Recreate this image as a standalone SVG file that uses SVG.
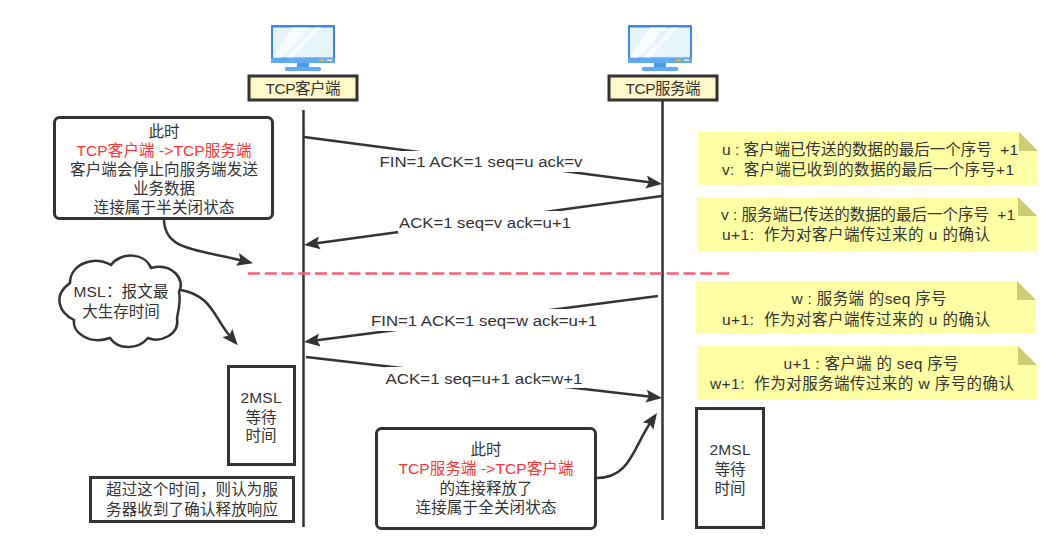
<svg xmlns="http://www.w3.org/2000/svg" width="1060" height="560" viewBox="0 0 1060 560">
  <style>
    text { font-family: "Liberation Sans", "Noto Sans CJK SC", sans-serif; font-size: 15.5px; fill: #333; text-anchor: middle; white-space: pre; }
    text.l { text-anchor: start; }
    text.red { fill: #ff3333; }
    .box { fill: #fff; stroke: #333; stroke-width: 3; }
    .hdr { fill: #fff8c9; stroke: #333; stroke-width: 3; }
    .life { fill: none; stroke: #333; stroke-width: 2.5; }
    .msg { fill: none; stroke: #333; stroke-width: 2.5; marker-end: url(#head); }
    .bg { fill: #fff; }
    .sticky { fill: #ffffa6; }
    .fold { fill: #cccc74; }
  </style>
  <defs>
    <!-- the tip sits 11 units past the end of each connector path -->
    <marker id="head" markerUnits="userSpaceOnUse" markerWidth="18" markerHeight="15" refX="5" refY="6.500" orient="auto">
      <path d="M0 0 L16 6.500 L0 13 L3 6.500 Z" fill="#333"/>
    </marker>
    <g id="monitor">
      <rect x="0" y="0" width="64" height="38" rx="1" fill="#3f83f0"/>
      <rect x="2" y="2.500" width="60" height="30" fill="#e6f4fc"/>
      <path d="M22 2.500 L38 2.500 L10 32.500 L2 32.500 Z M44 2.500 L50 2.500 L22 32.500 L16 32.500 Z" fill="#f7fbfe"/>
      <rect x="0" y="33" width="64" height="5" fill="#62a9f2"/>
      <rect x="48" y="34.500" width="5" height="1.500" fill="#f4bb3a"/>
      <rect x="56" y="34.500" width="5" height="1.500" fill="#e8f3fd"/>
      <rect x="26" y="38" width="12" height="6" fill="#4a9af0"/>
      <rect x="14" y="42" width="36" height="4" rx="1.500" fill="#62a9f2"/>
    </g>
  </defs>

  <!-- lifelines and connectors -->
  <g id="connectors">
    <path class="life" d="M303.500 110 V527"/>
    <path class="life" d="M662.500 100 V520"/>
    <path class="msg" d="M304 137 L651.100 182.600"/>
    <path class="msg" d="M662 196 L314.900 243.500"/>
    <path class="msg" d="M658 296 L314.900 340.600"/>
    <path class="msg" d="M306 357 L651.100 396.700"/>
    <path d="M248 273.500 H730" fill="none" stroke="#ff5c7c" stroke-width="2.500" stroke-dasharray="12 4.750"/>
    <path class="msg" d="M164 219 C164 250 195 249 242.300 260.600"/>
    <path class="msg" d="M181 290 C212 296 213 316 230.600 336.900"/>
    <path class="msg" d="M597 478 C630 478 633 448 650.800 422"/>
  </g>

  <!-- messages -->
  <g id="msg-fin-client">
    <rect class="bg" x="379" y="151" width="204" height="21"/>
    <text x="481" y="166.500" textLength="203" lengthAdjust="spacingAndGlyphs">FIN=1 ACK=1 seq=u ack=v</text>
  </g>
  <g id="msg-ack-server">
    <rect class="bg" x="398" y="211" width="175" height="22"/>
    <text x="485" y="227.500" textLength="172" lengthAdjust="spacingAndGlyphs">ACK=1 seq=v ack=u+1</text>
  </g>
  <g id="msg-fin-server">
    <rect class="bg" x="370" y="309" width="229" height="22"/>
    <text x="484" y="325.500" textLength="226" lengthAdjust="spacingAndGlyphs">FIN=1 ACK=1 seq=w ack=u+1</text>
  </g>
  <g id="msg-ack-client">
    <rect class="bg" x="385" y="367" width="199" height="21"/>
    <text x="484" y="383.500" textLength="197" lengthAdjust="spacingAndGlyphs">ACK=1 seq=u+1 ack=w+1</text>
  </g>

  <g id="client">
    <use href="#monitor" x="271" y="25"/>
    <rect class="hdr" x="249" y="76" width="108" height="24"/>
    <text x="303" y="93.500" textLength="75">TCP客户端</text>
  </g>
  <g id="server">
    <use href="#monitor" x="628" y="25"/>
    <rect class="hdr" x="609" y="76" width="108" height="24"/>
    <text x="663" y="93.500" textLength="75">TCP服务端</text>
  </g>

  <g id="note-half-close">
    <rect class="box" x="54.500" y="117.500" width="218" height="101" rx="5"/>
    <text x="164" y="137">此时</text>
    <text class="red" x="164" y="155.500" textLength="175">TCP客户端 -&gt;TCP服务端</text>
    <text x="164" y="175" textLength="188">客户端会停止向服务端发送</text>
    <text x="164" y="194">业务数据</text>
    <text x="164" y="213" textLength="141">连接属于半关闭状态</text>
  </g>

  <g id="msl-cloud">
    <path d="M70 283 C70 265 92 255 111 265 C120 252 145 252 151 268 C172 262 186 280 179 292 C181 300 179 308 177 318 C180 335 160 343 148 338 C138 350 118 350 110 338 C90 345 72 333 74 320 C58 312 53 295 70 283 Z" fill="#fff" stroke="#333" stroke-width="2.500"/>
    <text x="121" y="297" textLength="95">MSL：报文最</text>
    <text x="121" y="317">大生存时间</text>
  </g>

  <g id="wait-client">
    <rect class="box" x="228.500" y="366.500" width="66" height="98"/>
    <text x="261" y="403" textLength="41">2MSL</text>
    <text x="261" y="423">等待</text>
    <text x="261" y="441">时间</text>
  </g>
  <g id="timeout-note">
    <rect class="box" x="90.500" y="477.500" width="203" height="44"/>
    <text x="192" y="495" textLength="172">超过这个时间，则认为服</text>
    <text x="192" y="515" textLength="172">务器收到了确认释放响应</text>
  </g>
  <g id="wait-server">
    <rect class="box" x="696.500" y="408.500" width="67" height="119"/>
    <text x="730" y="455" textLength="41">2MSL</text>
    <text x="730" y="475">等待</text>
    <text x="730" y="494">时间</text>
  </g>
  <g id="note-full-close">
    <rect class="box" x="376.500" y="428.500" width="219" height="100" rx="5"/>
    <text x="486" y="455">此时</text>
    <text class="red" x="486" y="474" textLength="175">TCP服务端 -&gt;TCP客户端</text>
    <text x="486" y="494">的连接释放了</text>
    <text x="486" y="513" textLength="141">连接属于全关闭状态</text>
  </g>

  <!-- sticky notes -->
  <g id="sticky-u-v">
    <path class="sticky" d="M698 132 H1019 L1038 151 V185 H698 Z"/>
    <path class="fold" d="M1019 132 L1038 151 H1019 Z"/>
    <text class="l" x="722" y="155" textLength="296">u : 客户端已传送的数据的最后一个序号  +1</text>
    <text class="l" x="722" y="174.500" textLength="292">v:  客户端已收到的数据的最后一个序号+1</text>
  </g>
  <g id="sticky-v-u1">
    <path class="sticky" d="M697 197 H1018 L1037 216 V251 H697 Z"/>
    <path class="fold" d="M1018 197 L1037 216 H1018 Z"/>
    <text class="l" x="721" y="219.500" textLength="294">v : 服务端已传送的数据的最后一个序号  +1</text>
    <text class="l" x="722" y="240" textLength="268">u+1:  作为对客户端传过来的 u 的确认</text>
  </g>
  <g id="sticky-w-u1">
    <path class="sticky" d="M696 281 H1017 L1036 300 V334 H696 Z"/>
    <path class="fold" d="M1017 281 L1036 300 H1017 Z"/>
    <text x="869" y="304" textLength="155">w : 服务端 的seq 序号</text>
    <text class="l" x="722" y="324.500" textLength="268">u+1:  作为对客户端传过来的 u 的确认</text>
  </g>
  <g id="sticky-u1-w1">
    <path class="sticky" d="M697 346 H1018 L1037 365 V400 H697 Z"/>
    <path class="fold" d="M1018 346 L1037 365 H1018 Z"/>
    <text x="871" y="368.500" textLength="175">u+1 : 客户端 的 seq 序号</text>
    <text class="l" x="710" y="389" textLength="304">w+1:  作为对服务端传过来的 w 序号的确认</text>
  </g>
</svg>
